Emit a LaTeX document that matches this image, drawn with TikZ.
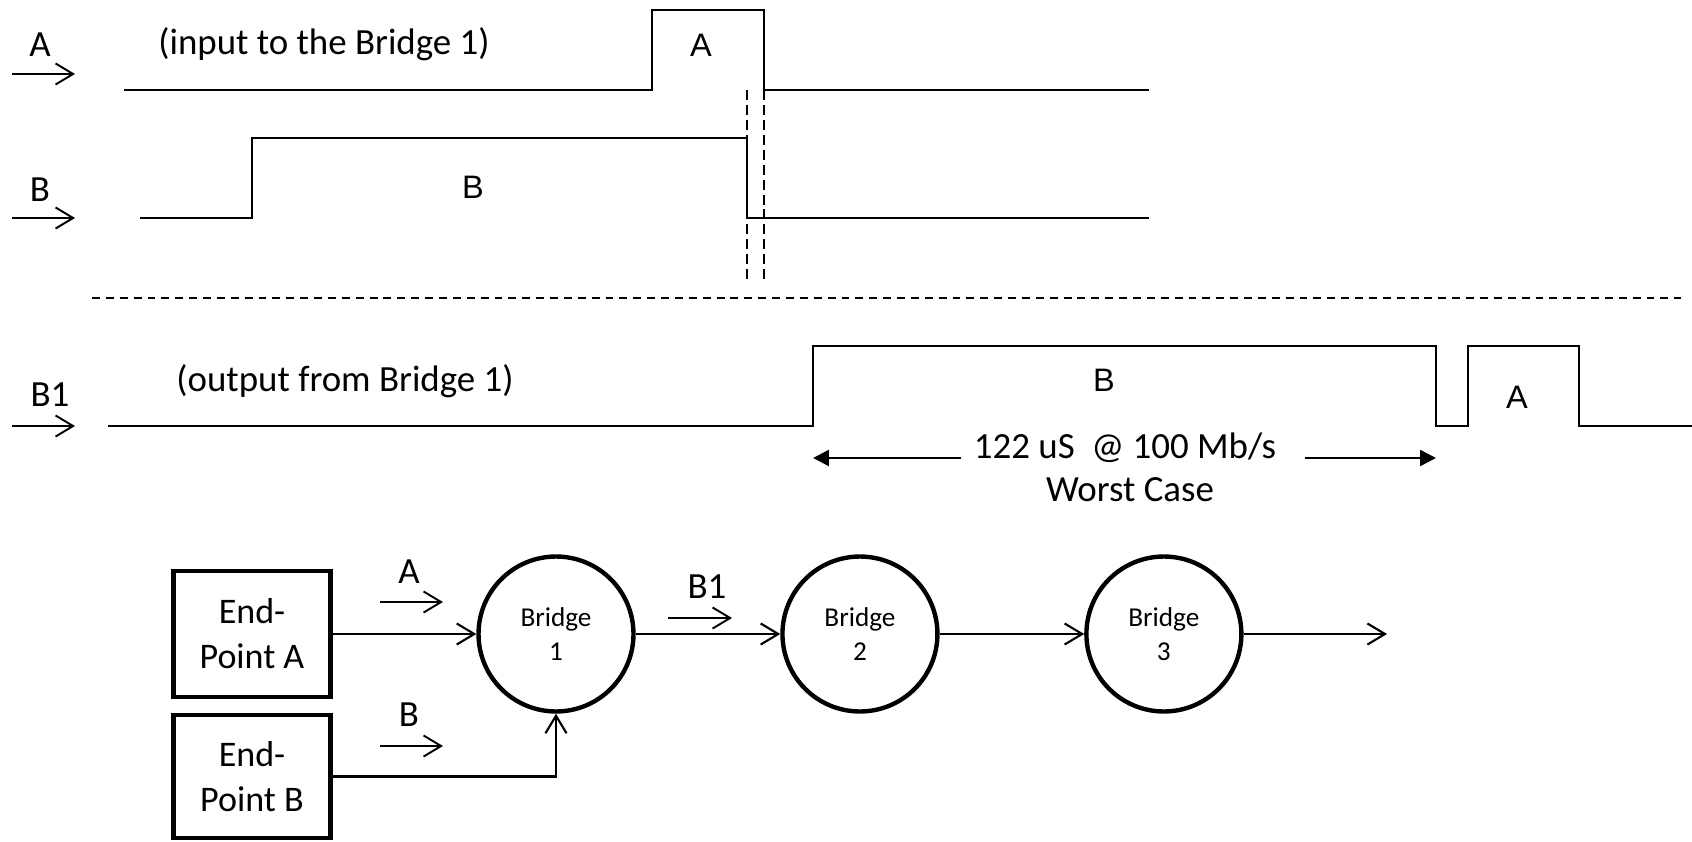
\documentclass[tikz,border=0pt]{standalone}
\usepackage{fontspec}
\setmainfont{Carlito}
\newfontfamily\arialfont{Liberation Sans}
\usetikzlibrary{automata, positioning, arrows.meta}
\tikzset{
  >={Straight Barb[length=10pt,width=12pt]},
  node distance=6.08cm,
  every state/.style={line width=2.5pt, minimum size=3.1cm, inner sep=0pt, align=center,
    font=\fontsize{15.5}{19}\selectfont},
  endpoint/.style={draw, line width=2.5pt, minimum width=3.14cm, minimum height=2.52cm,
    align=center, font=\fontsize{20.5}{25.5}\selectfont},
  wave/.style={line width=1.4pt},
  conn/.style={->, line width=1.2pt},
  tag/.style={->, line width=1.1pt},
  txt/.style={inner sep=0pt, font=\fontsize{21}{25.5}\selectfont},
  pulse/.style={inner sep=0pt, font=\arialfont\fontsize{18.5}{22}\selectfont},
  edgemark/.style={line width=1.4pt, dash pattern=on 5.7pt off 2.8pt},
  divider/.style={line width=1.4pt, dash pattern=on 4.5pt off 3.4pt},
  span/.style={-{Triangle[length=9pt,width=9pt]}, line width=1.4pt},
}

\begin{document}
\begin{tikzpicture}[x=0.02cm, y=-0.02cm]
  \useasboundingbox (0,0) rectangle (1692,841);

  \node[txt] (lblA)  at (40,45)   {A};
  \node[txt] (lblB)  at (40,190)  {B};
  \node[txt] (lblB1) at (50,395)  {B1};
  \coordinate (inA0)  at (12,74);   \coordinate (inA1)  at (75,74);
  \coordinate (inB0)  at (12,218);  \coordinate (inB1)  at (75,218);
  \coordinate (inC0)  at (12,426);  \coordinate (inC1)  at (75,426);
  \draw[tag] (inA0) -- (inA1);
  \draw[tag] (inB0) -- (inB1);
  \draw[tag] (inC0) -- (inC1);

  \node[txt]   (inNote)  at (324,44)  {(input to the Bridge 1)};
  \node[txt]   (outNote) at (345,381) {(output from Bridge 1)};
  \node[pulse] (pA)  at (701,45)   {A};
  \node[pulse] (pB)  at (473,187)  {B};
  \node[pulse] (pB1) at (1104,380) {B};
  \node[pulse] (pA1) at (1517,397) {A};

  \draw[wave] (124,90) -- (652,90) -- (652,10) -- (764,10) -- (764,90) -- (1149,90);
  \draw[wave] (140,218) -- (252,218) -- (252,138) -- (747,138) -- (747,218) -- (1149,218);
  \draw[wave] (108,426) -- (813,426) -- (813,346) -- (1436,346) -- (1436,426)
              -- (1468,426) -- (1468,346) -- (1579,346) -- (1579,426) -- (1692,426);
  \draw[edgemark] (747,90) -- (747,280);
  \draw[edgemark] (764,90) -- (764,280);
  \draw[divider] (92,298) -- (1681,298);

  \node[txt] (rate)  at (1125,448) {122 uS~ @ 100 Mb/s};
  \node[txt] (worst) at (1130,490) {Worst Case};
  \coordinate (spanL) at (813,458);
  \coordinate (spanR) at (1436,458);
  \draw[span] ([xshift=-7pt]rate.west |- spanL) -- (spanL);
  \draw[span] ([xshift=16pt]rate.east |- spanR) -- (spanR);

  \node[endpoint] (epA) at (252,634) {End-\\Point A};
  \node[endpoint, minimum height=2.46cm, below of=epA, node distance=2.85cm] (epB) {End-\\Point B};
  \node[state] (br1) at (556,634)  {Bridge\\1};
  \node[state, right of=br1] (br2) {Bridge\\2};
  \node[state, right of=br2] (br3) {Bridge\\3};
  \coordinate (out) at (1387,634);

  \draw[conn] (epA) -- (br1);
  \draw[conn] (epB.east) -| (br1.south);
  \draw[conn] (br1) -- (br2);
  \draw[conn] (br2) -- (br3);
  \draw[conn] (br3) -- (out);

  \node[txt] (tagA)  at (409,572) {A};
  \node[txt] (tagB)  at (409,715) {B};
  \node[txt] (tagB1) at (707,587) {B1};
  \coordinate (tA0) at (380,602);  \coordinate (tA1) at (443,602);
  \coordinate (tB0) at (380,746);  \coordinate (tB1) at (443,746);
  \coordinate (tC0) at (668,618);  \coordinate (tC1) at (732,618);
  \draw[tag] (tA0) -- (tA1);
  \draw[tag] (tB0) -- (tB1);
  \draw[tag] (tC0) -- (tC1);
\end{tikzpicture}
\end{document}
